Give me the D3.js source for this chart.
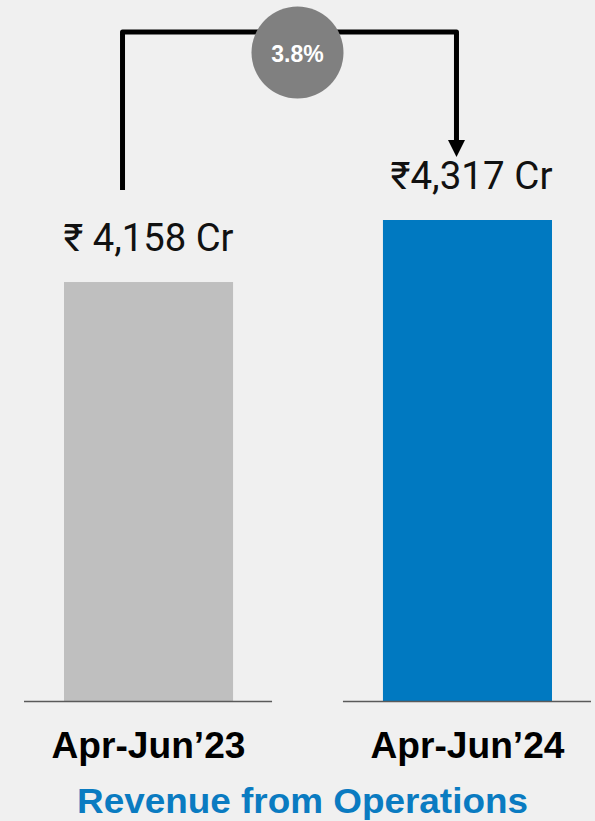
<!DOCTYPE html>
<html>
<head>
<meta charset="utf-8">
<script src="https://cdn.jsdelivr.net/npm/d3@7"></script>
<style>
  html, body { margin: 0; padding: 0; background: #f0f0f0; }
  svg { display: block; font-family: Roboto, "Noto Sans", sans-serif; }
</style>
</head>
<body>
<div id="chart"></div>
<script>
// data
var categories = ["Apr-Jun\u201923", "Apr-Jun\u201924"];
var revenue = [4158, 4317];
var valueLabels = ["\u20b9 4,158 Cr", "\u20b94,317 Cr"];
var growthLabel = "3.8%";
var chartTitle = "Revenue from Operations";
var barColors = ["#bfbfbf", "#0079c1"];

var width = 595, height = 821;

var svg = d3.select("#chart")
    .append("svg")
    .attr("width", width)
    .attr("height", height);

svg.append("rect")
    .attr("width", width)
    .attr("height", height)
    .attr("fill", "#f0f0f0");

// scales
var baseY = 701;
var yScale = d3.scaleLinear()
    .domain([3084, d3.max(revenue)])
    .range([baseY, 220]);

var xBar = d3.scaleBand()
    .domain(categories)
    .range([64, 552])
    .paddingInner(0.47);

var data = categories.map(function(c, i) {
    return { cat: c, value: revenue[i], label: valueLabels[i], color: barColors[i] };
});

var center = function(d) { return xBar(d.cat) + xBar.bandwidth() / 2; };

svg.selectAll(".bar")
    .data(data)
    .enter().append("rect")
    .attr("class", "bar")
    .attr("x", function(d) { return xBar(d.cat); })
    .attr("y", function(d) { return yScale(d.value); })
    .attr("width", xBar.bandwidth())
    .attr("height", function(d) { return baseY - yScale(d.value); })
    .attr("fill", function(d) { return d.color; });

// baseline segments under each bar
svg.selectAll(".baseline")
    .data(data)
    .enter().append("line")
    .attr("class", "baseline")
    .attr("x1", function(d) { return xBar(d.cat) - 40; })
    .attr("x2", function(d) { return xBar(d.cat) + xBar.bandwidth() + 39; })
    .attr("y1", baseY + 0.5)
    .attr("y2", baseY + 0.5)
    .attr("stroke", "#5a5a5a")
    .attr("stroke-width", 1.5);

// value labels
svg.selectAll(".value-label")
    .data(data)
    .enter().append("text")
    .attr("class", "value-label")
    .attr("x", function(d, i) { return center(d) + (i == 1 ? 4 : 0); })
    .attr("y", function(d) { return yScale(d.value) - 31; })
    .attr("text-anchor", "middle")
    .attr("textLength", function(d, i) { return i == 0 ? 170 : 162; })
    .attr("lengthAdjust", "spacingAndGlyphs")
    .style("font-size", "38px")
    .style("fill", "#111")
    .text(function(d) { return d.label; });

// category labels
svg.selectAll(".cat-label")
    .data(data)
    .enter().append("text")
    .attr("class", "cat-label")
    .attr("x", center)
    .attr("y", 758)
    .attr("text-anchor", "middle")
    .attr("textLength", 194)
    .attr("lengthAdjust", "spacingAndGlyphs")
    .style("font-family", "'Liberation Sans', Arial, sans-serif")
    .style("font-size", "36px")
    .style("font-weight", "bold")
    .style("fill", "#000")
    .text(function(d) { return d.cat; });

// title
svg.append("text")
    .attr("x", 302.5)
    .attr("y", 813)
    .attr("text-anchor", "middle")
    .attr("textLength", 451)
    .attr("lengthAdjust", "spacingAndGlyphs")
    .style("font-family", "'Liberation Sans', Arial, sans-serif")
    .style("font-size", "35px")
    .style("font-weight", "bold")
    .style("fill", "#0a7bc1")
    .text(chartTitle);

// growth arrow
var leftX = center(data[0]) - 26;
var rightX = center(data[1]) - 11;
var topY = 32;
var startY = yScale(revenue[0]) - 92;
var tipY = yScale(revenue[1]) - 63;
var headH = 17;

svg.append("path")
    .attr("d", "M" + leftX + "," + startY + " L" + leftX + "," + topY +
               " L" + rightX + "," + topY + " L" + rightX + "," + (tipY - headH + 2))
    .attr("fill", "none")
    .attr("stroke", "#000")
    .attr("stroke-width", 5)
    .attr("stroke-linejoin", "round");

svg.append("path")
    .attr("d", "M" + (rightX - 8.5) + "," + (tipY - headH) + " L" + (rightX + 8.5) + "," + (tipY - headH) +
               " L" + rightX + "," + tipY + " Z")
    .attr("fill", "#000");

// growth bubble
var cx = 297.5, cy = 52.5;
svg.append("circle")
    .attr("cx", cx)
    .attr("cy", cy)
    .attr("r", 46)
    .attr("fill", "#808080");

svg.append("text")
    .attr("x", cx)
    .attr("y", cy + 9)
    .attr("text-anchor", "middle")
    .style("font-family", "'Liberation Sans', Arial, sans-serif")
    .style("font-size", "23px")
    .style("font-weight", "bold")
    .style("fill", "#fff")
    .text(growthLabel);
</script>
</body>
</html>
